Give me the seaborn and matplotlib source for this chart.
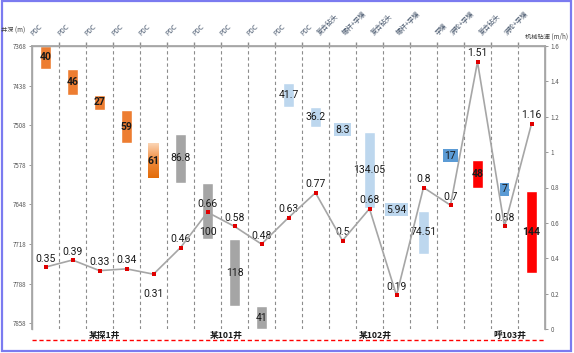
import numpy as np
import pandas as pd
import matplotlib
matplotlib.use("Agg")
import matplotlib.pyplot as plt
import seaborn as sns
from matplotlib.colors import LinearSegmentedColormap
from matplotlib.patches import Rectangle

import warnings
warnings.filterwarnings("ignore")

# bit type per run (top labels)
bits = ["PDC"] * 11 + ["复合钻头", "螺杆+孕镶", "复合钻头", "螺杆+孕镶",
                       "孕镶", "涡轮+孕镶", "复合钻头", "涡轮+孕镶"]

# interval top depth (m) and footage (m)
depth_top = [7368, 7408, 7454, 7481, 7540,
             7523, 7609.8, 7709.8, 7827.8,
             7434, 7475.7, 7511.9, 7520.2, 7654.25, 7660.19, 7553,
             7570, 7618, 7625]
footage = [40, 46, 27, 59, 61,
           86.8, 100, 118, 41,
           41.7, 36.2, 8.3, 134.05, 5.94, 74.51, 17,
           48, 7, 144]

# rate of penetration (m/h)
rop = [0.35, 0.39, 0.33, 0.34, 0.31, 0.46, 0.66, 0.58, 0.48, 0.63,
       0.77, 0.5, 0.68, 0.19, 0.8, 0.7, 1.51, 0.58, 1.16]

wells = ["某探1井", "某101井", "某102井", "呼103井"]
well_runs = [5, 4, 7, 3]

bar_colors = ["#ed7d31"] * 5 + ["#a5a5a5"] * 4 + ["#bdd7ee"] * 6 + \
             ["#5b9bd5", "#ff0000", "#5b9bd5", "#ff0000"]

df = pd.DataFrame({
    "bit": bits,
    "top": depth_top,
    "len": footage,
    "rop": rop,
    "color": bar_colors,
})
df["x"] = np.arange(len(df))

sns.set_theme(style="white")
plt.rcParams["font.family"] = ["Noto Sans CJK SC", "DejaVu Sans"]
num_font = ["Roboto", "DejaVu Sans"]

fig = plt.figure(figsize=(5.74, 3.53), dpi=100)
ax = fig.add_axes([32 / 574, 1 - 329 / 353, 513 / 574, 283 / 353])
ax.patch.set_alpha(0)

# depth intervals as floating bars
for i, row in df.iterrows():
    if i == 4:
        # gradient filled bar
        cmap = LinearSegmentedColormap.from_list(
            "g", ["#fbd5b5", "#f08a3c", "#e36c09"])
        grad = np.linspace(0, 1, 100).reshape(-1, 1)
        ax.imshow(grad, cmap=cmap, aspect="auto", zorder=2,
                  extent=[row.x - 0.2, row.x + 0.2,
                          row.top + row.len, row.top])
    else:
        ax.bar(row.x, row.len, bottom=row.top, width=0.4,
               color=row.color, zorder=2)
    lab = f"{row.len:g}"
    bold = "bold" if row.color in ("#ed7d31", "#ff0000") else "normal"
    # small runs get a coloured box behind the label
    box = None
    if row.len < 20:
        box = dict(boxstyle="square,pad=0.15", fc=row.color, ec="none")
    ly = row.top + row.len / 2
    if i == 6:
        ly = row.top + row.len * 0.87
    ax.text(row.x, ly, lab, ha="center", va="center",
            fontsize=7.5, family=num_font, fontweight=bold,
            color="#1a1a1a", bbox=box, zorder=3)

ax.set_xlim(-0.5, len(df) - 0.5)
ax.set_ylim(7868, 7368)
ax.set_yticks(np.arange(7368, 7859, 70))
ax.set_yticklabels([str(v) for v in range(7368, 7859, 70)])
ax.set_xticks([])
ax.set_xticks(np.arange(0.5, len(df) - 1), minor=True)
ax.tick_params(axis="x", which="minor", top=True, bottom=False,
               direction="out", length=3, color="#8c8c8c")
ax.tick_params(axis="y", labelsize=4.5, labelcolor="#595959",
               length=2, width=0.6, color="#8c8c8c", pad=2, left=True)

for b in np.arange(0.5, len(df) - 1):
    ax.axvline(b, color="#8c8c8c", lw=0.8, ls=(0, (3, 2.5)), zorder=1)

for s in ["left", "top", "right"]:
    ax.spines[s].set_color("#a6a6a6")
    ax.spines[s].set_linewidth(1)
ax.spines["bottom"].set_visible(False)

# bit type labels above the top axis
xt = ax.get_xaxis_transform()
for x, b in zip(df["x"], df["bit"]):
    ax.text(x - 0.07, 1.032, b, transform=xt, rotation=45,
            ha="right", va="bottom", fontsize=4.8, color="#44546a")

# well names and red dashed line under the plot
start = 0
for w, n in zip(wells, well_runs):
    cx = start + (n - 1) / 2 + 0.2
    ax.text(cx, -0.022, w, transform=xt, ha="center", va="center",
            fontsize=6.3, fontweight="bold", color="#1a1a1a")
    start += n
ax.plot([0, 1], [-0.039, -0.039], transform=ax.transAxes, clip_on=False,
        color="#ff0000", lw=1, ls=(0, (3, 2)))

ax.set_ylabel("")
fig.text(13 / 574, 1 - 31 / 353, "井深 (m)", ha="center", va="center",
         fontsize=4.5, color="#404040")

# rate of penetration on the right axis
ax2 = ax.twinx()
sns.lineplot(data=df, x="x", y="rop", ax=ax2, color="#a6a6a6", lw=1.2,
             sort=False, zorder=4)
sns.scatterplot(data=df, x="x", y="rop", ax=ax2, color="#e00000",
                marker="s", s=5, linewidth=0, zorder=5)
for i, row in df.iterrows():
    if i == 4:
        ax2.annotate(f"{row.rop:g}", (row.x, row.rop), xytext=(0, -11),
                     textcoords="offset points", ha="center", va="top",
                     fontsize=7.5, family=num_font, color="#1a1a1a")
    else:
        ax2.annotate(f"{row.rop:g}", (row.x, row.rop), xytext=(0, 2.5),
                     textcoords="offset points", ha="center", va="bottom",
                     fontsize=7.5, family=num_font, color="#1a1a1a")

ax2.set_ylim(0, 1.6)
ax2.set_xlim(-0.5, len(df) - 0.5)
ax2.set_yticks(np.arange(0, 1.61, 0.2))
ax2.set_yticklabels(["0", "0.2", "0.4", "0.6", "0.8", "1", "1.2", "1.4", "1.6"])
ax2.tick_params(axis="y", labelsize=4.5, labelcolor="#595959", length=2,
                width=0.6, color="#8c8c8c", pad=2, right=True)
ax2.set_xlabel("")
ax2.set_ylabel("")
for s in ["left", "top", "right"]:
    ax2.spines[s].set_color("#a6a6a6")
ax2.spines["bottom"].set_visible(False)
ax2.grid(False)
fig.text(547 / 574, 1 - 37 / 353, "机械钻速 (m/h)", ha="center", va="center",
         fontsize=4.5, color="#404040")

# outer frame
fig.patches.append(Rectangle((2 / 574, 2 / 353), 569 / 574, 350 / 353,
                             transform=fig.transFigure, fill=False,
                             edgecolor="#7b7bf0", lw=1.6))

fig.savefig("out.png", dpi=100)
